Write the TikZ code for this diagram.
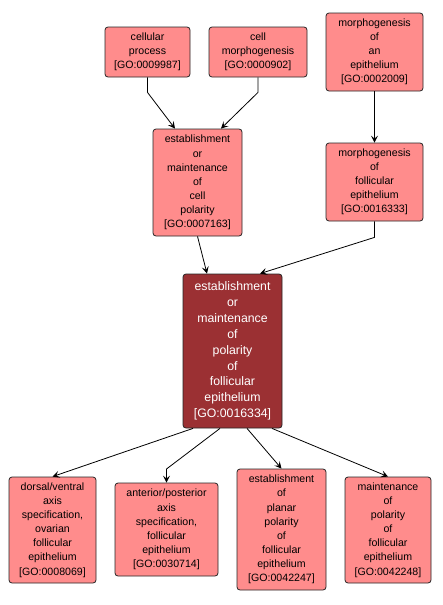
\documentclass[tikz,border=0pt]{standalone}
\usepackage{fontspec}
\setmainfont{Liberation Sans}
\usetikzlibrary{positioning, arrows.meta}
\definecolor{termpink}{RGB}{255, 140, 140}
\definecolor{focusred}{RGB}{155, 48, 51}

\begin{document}
\begin{tikzpicture}[
    x=1pt, y=-1pt,
    goterm/.style={
      draw=black!85, rounded corners=3pt, align=center,
      inner sep=0pt, fill=termpink, line width=0.8pt,
      font=\fontsize{10.6}{14.1}\selectfont
    },
    gofocus/.style={goterm, fill=focusred, text=white,
      font=\fontsize{12.3}{15.9}\selectfont},
    isa/.style={-{Stealth[length=7pt, width=7pt, inset=3pt]}, line width=0.8pt},
]
    \useasboundingbox[fill=white] (0,0) rectangle (442,605);

    % Parent terms
    \node[goterm, minimum width=85, minimum height=50] (cp) at (147.5,52)
      {cellular\\process\\{[}GO:0009987{]}};
    \node[goterm, minimum width=98, minimum height=50] (cm) at (258,52)
      {cell\\morphogenesis\\{[}GO:0000902{]}};
    \node[goterm, minimum width=97, minimum height=78] (mae) at (374.5,52)
      {morphogenesis\\of\\an\\epithelium\\{[}GO:0002009{]}};
    \node[goterm, minimum width=89, minimum height=107] (ecp) at (197.5,182.5)
      {establishment\\or\\maintenance\\of\\cell\\polarity\\{[}GO:0007163{]}};
    \node[goterm, minimum width=97, minimum height=78] (mfe) at (374.5,182)
      {morphogenesis\\of\\follicular\\epithelium\\{[}GO:0016333{]}};

    % Focus term
    \node[gofocus, minimum width=99, minimum height=154] (focus) at (232.5,351)
      {establishment\\or\\maintenance\\of\\polarity\\of\\follicular\\epithelium\\{[}GO:0016334{]}};

    % Child terms
    \node[goterm, minimum width=87, minimum height=106] (dv) at (52.5,530)
      {dorsal/ventral\\axis\\specification,\\ovarian\\follicular\\epithelium\\{[}GO:0008069{]}};
    \node[goterm, minimum width=103, minimum height=93] (ap) at (166.5,529.5)
      {anterior/posterior\\axis\\specification,\\follicular\\epithelium\\{[}GO:0030714{]}};
    \node[goterm, minimum width=89, minimum height=121] (ep) at (281.5,529.5)
      {establishment\\of\\planar\\polarity\\of\\follicular\\epithelium\\{[}GO:0042247{]}};
    \node[goterm, minimum width=86, minimum height=106] (mp) at (388,530)
      {maintenance\\of\\polarity\\of\\follicular\\epithelium\\{[}GO:0042248{]}};

    % is_a edges
    \draw[isa] (cp.south) -- ++(0,15) -- ([xshift=-22.5]ecp.north);
    \draw[isa] (cm.south) -- ++(0,15) -- ([xshift=23.5]ecp.north);
    \draw[isa] (mae) -- (mfe);
    \draw[isa] (ecp.south) -- ([xshift=-25.5]focus.north);
    \draw[isa] (mfe.south) -- ++(0,16) -- ([xshift=27.5]focus.north);

    \draw[isa] ([xshift=-39.5]focus.south) -- (dv.north);
    \draw[isa] ([xshift=-12.5]focus.south) -- (166.5,469) -- (ap.north);
    \draw[isa] ([xshift=14.5]focus.south) -- (ep.north);
    \draw[isa] ([xshift=39.5]focus.south) -- (mp.north);
\end{tikzpicture}
\end{document}
